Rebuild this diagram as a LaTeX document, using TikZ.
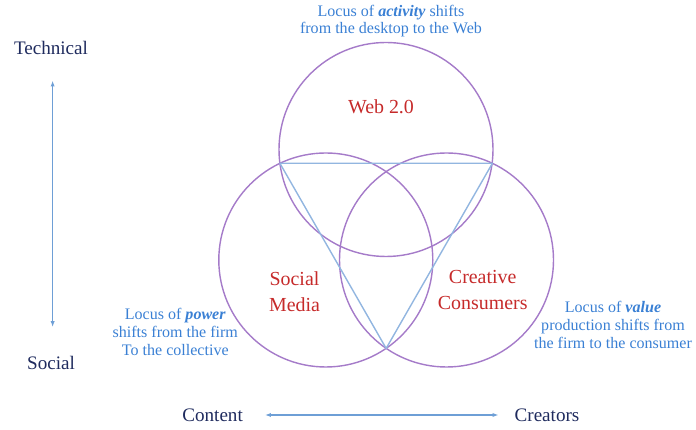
\documentclass[tikz,border=0pt]{standalone}
\usepackage{fontspec}
\setmainfont{Liberation Serif}
\usepackage{tikz}
\usetikzlibrary{arrows.meta}
\definecolor{purp}{HTML}{A57BC9}
\definecolor{tblue}{HTML}{92B6E0}
\definecolor{noteblue}{HTML}{3A80D4}
\definecolor{navy}{HTML}{1F2B5E}
\definecolor{hubred}{HTML}{C62A2A}
\definecolor{arrblue}{HTML}{6E9FD6}
\tikzset{
  ring/.style={draw=purp, line width=1.2pt},
  tri/.style={draw=tblue, line width=1.2pt, line join=round},
  axisarr/.style={draw=arrblue, line width=0.9pt, {Latex[length=5pt,width=3.6pt]}-{Latex[length=5pt,width=3.6pt]}},
  note/.style={text=noteblue, font=\fontsize{13.7}{15.2}\selectfont, align=center, inner sep=2pt},
  hub/.style={text=hubred, font=\fontsize{17}{22}\selectfont, align=center, inner sep=2pt},
  axislab/.style={text=navy, font=\fontsize{16.3}{19}\selectfont, inner sep=2pt},
}
\begin{document}
\begin{tikzpicture}[x=0.03cm, y=0.03cm]
  \useasboundingbox (0,0) rectangle (696,430);
  \def\r{107}
  % circle centres
  \coordinate (T) at (386,280.5);
  \coordinate (L) at (325.8,170);
  \coordinate (R) at (446.5,170);
  % outer crossings of the circles
  \coordinate (TL) at (279.9,266.7);
  \coordinate (TR) at (492.4,266.7);
  \coordinate (LR) at (386.15,81.6);
  \draw[ring] (T) circle (\r);
  \draw[ring] (L) circle (\r);
  \draw[ring] (R) circle (\r);
  \draw[tri] (TL)--(TR)--(LR)--cycle;
  \node[hub] (web) at (381,323) {Web 2.0};
  \node[hub] (soc) at (294.5,138.5) {Social\\Media};
  \node[hub] (cre) at (482.7,140) {Creative\\Consumers};
  \node[note] (act) at (391,409) {Locus of \textbf{\textit{activity}} shifts\\from the desktop to the Web};
  \node[note] (pow) at (175.3,98) {Locus of \textbf{\textit{power}}\\shifts from the firm\\To the collective};
  \node[note] (val) at (613,105) {Locus of \textbf{\textit{value}}\\production shifts from\\the firm to the consumer};
  \node[axislab] (tech) at (51,382) {Technical};
  \node[axislab] (socl) at (51,67) {Social};
  \node[axislab] (cont) at (212.6,15) {Content};
  \node[axislab] (crea) at (547,15) {Creators};
  \draw[axisarr, shorten <=0.7cm, shorten >=0.8cm] ([xshift=1.4]tech.south) -- ([xshift=1.4]tech.south |- socl.north);
  \draw[axisarr, shorten <=0.59cm, shorten >=0.41cm] (cont.east) -- (crea.west);
\end{tikzpicture}
\end{document}
